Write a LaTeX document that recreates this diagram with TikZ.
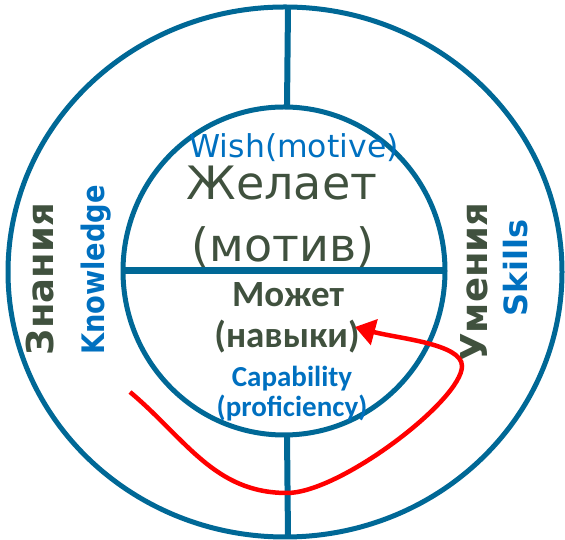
\documentclass[tikz,border=0pt]{standalone}
\usepackage{fontspec}
\setmainfont{DejaVu Sans}
\newfontfamily\calfont{Carlito}
\usetikzlibrary{shapes.geometric,arrows.meta}
\definecolor{ringblue}{RGB}{0,104,150}
\definecolor{txtblue}{RGB}{0,112,192}
\definecolor{txtdark}{RGB}{64,81,62}
\definecolor{arrowred}{RGB}{255,0,0}
\begin{document}
\begin{tikzpicture}[x=1pt,y=1pt,
  ring/.style={draw=ringblue, ellipse, inner sep=0pt, outer sep=0pt, line width=5pt},
  divider/.style={draw=ringblue, line width=6pt},
  lbl/.style={inner sep=0pt, anchor=base},
  wishfont/.style={font=\fontsize{31.5}{36}\selectfont, text=txtblue},
  bigfont/.style={font=\fontsize{46}{50}\selectfont, text=txtdark},
  canfont/.style={font=\calfont\bfseries\fontsize{37}{40}\selectfont, text=txtdark},
  capfont/.style={font=\calfont\bfseries\fontsize{29}{32}\selectfont, text=txtblue},
  sidedark/.style={font=\bfseries\fontsize{37}{40}\selectfont, text=txtdark, rotate=90},
  sideblue/.style={font=\bfseries\fontsize{32}{36}\selectfont, text=txtblue, rotate=90},
  redarrow/.style={draw=arrowred, line width=4.5pt, -{Triangle[length=20pt,width=26pt]}}
]
\useasboundingbox (0,0) rectangle (565,540);
\node[ring, minimum width=554pt, minimum height=530pt] (outer) at (285,268) {};
\node[ring, minimum width=322pt, minimum height=328pt] (inner) at (284,269) {};
\draw[divider, line width=7pt] (inner.west) -- (inner.east);
\draw[divider] ([xshift=3pt]inner.north) -- ([xshift=3pt]outer.north);
\draw[divider] ([xshift=3pt]inner.south) -- ([xshift=3pt]outer.south);

\node[lbl, wishfont] (wish) at (294,382) {Wish(motive)};
\node[lbl, bigfont] (zhel) at (282,340) {Желает};
\node[lbl, bigfont] (motiv) at (283,278) {(мотив)};
\node[lbl, canfont] (mozh) at (288,233) {Может};
\node[lbl, canfont] (navyki) at (287,192) {(навыки)};
\node[lbl, capfont] (cap) at (292,153) {Capability};
\node[lbl, capfont] (prof) at (292,123) {(proficiency)};

\node[lbl, sidedark] (znan) at (53,261) {Знания};
\node[lbl, sideblue] (know) at (104,270) {\scalebox{0.88}[1]{\fontsize{31}{34}\selectfont Knowledge}};
\node[lbl, sidedark] (umen) at (487,258) {Умения};
\node[lbl, sideblue] (skills) at (527,272) {Skills};

\coordinate (s) at (130,148);
\coordinate (b) at (287,47);
\coordinate (c1) at (340,47);
\coordinate (c2) at (462,140);
\coordinate (t) at (462,174);
\coordinate (tip) at (355,213);
\draw[redarrow] (s) to[out=-40,in=180] (b) .. controls (c1) and (c2) .. (t)
  to[out=90,in=-15,out looseness=0.5] (tip);
\end{tikzpicture}
\end{document}
